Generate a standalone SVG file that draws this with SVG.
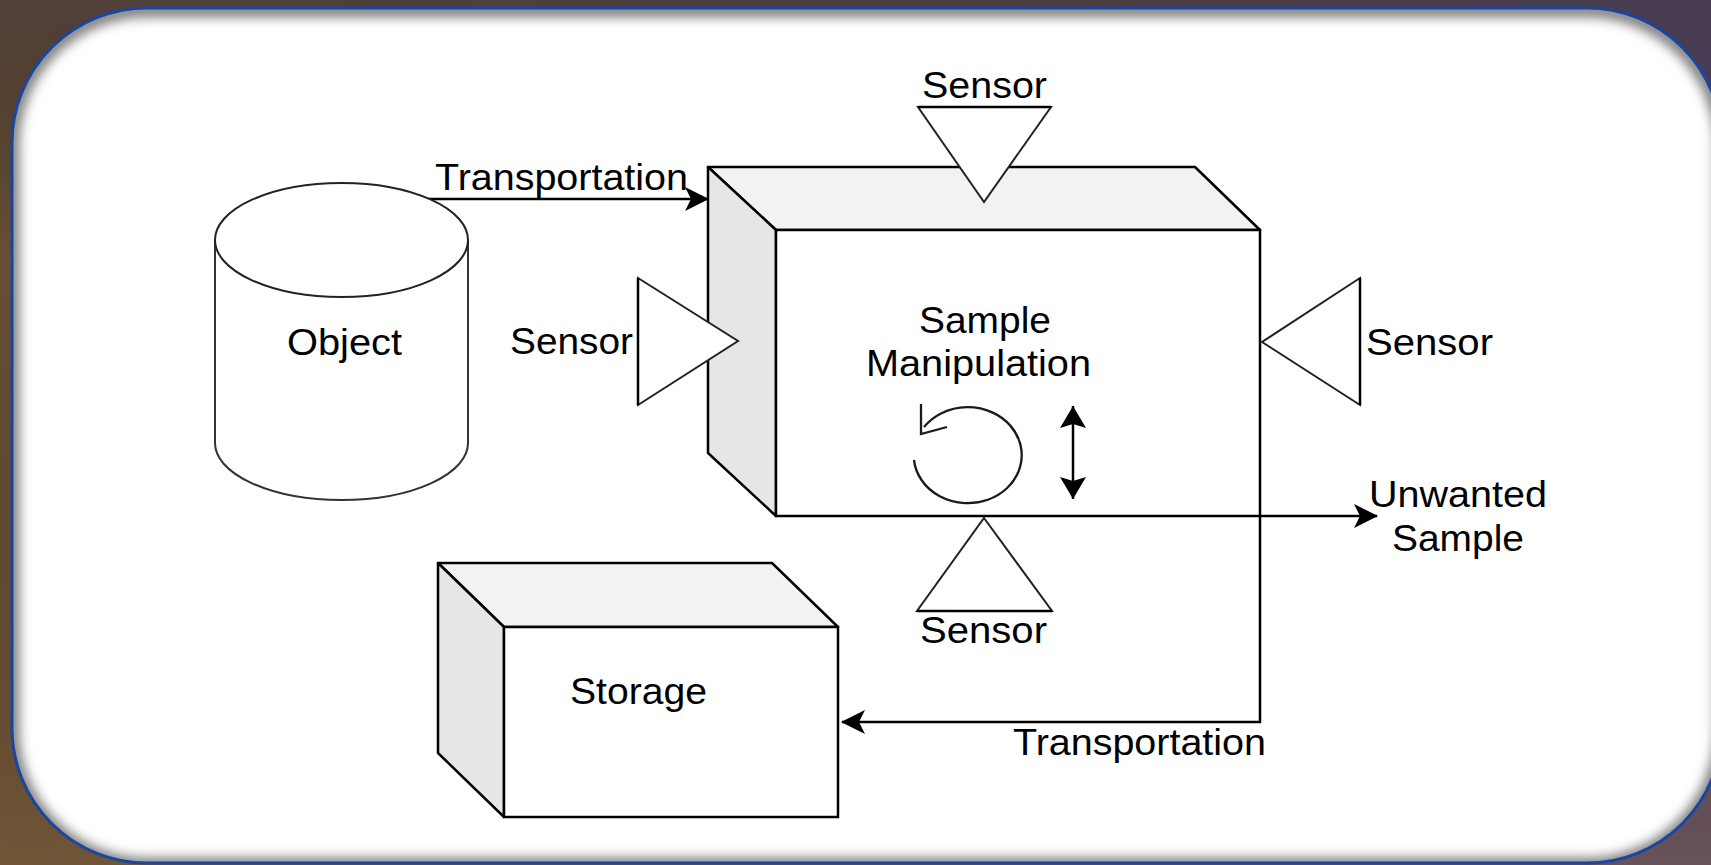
<svg xmlns="http://www.w3.org/2000/svg" width="1711" height="865" viewBox="0 0 1711 865">
<style>
.ln{fill:none;stroke:#000;stroke-width:2.5}
.th{fill:none;stroke:#1a1a1a;stroke-width:2.3}
.t{font-family:"Liberation Sans",Arial,Helvetica,sans-serif;font-size:36px;fill:#000}
</style>
<defs>
<linearGradient id="bg" x1="0" y1="0" x2="1" y2="0.3">
<stop offset="0" stop-color="#6a5134"/>
<stop offset="0.5" stop-color="#5e4d3e"/>
<stop offset="1" stop-color="#564a6e"/>
</linearGradient>
<linearGradient id="bg2" x1="0" y1="0" x2="0" y2="1">
<stop offset="0" stop-color="#3a3040" stop-opacity="0.5"/>
<stop offset="0.3" stop-color="#000" stop-opacity="0"/>
<stop offset="1" stop-color="#8a6030" stop-opacity="0.35"/>
</linearGradient>
<clipPath id="fc"><rect x="12" y="8" width="1710" height="855" rx="135" ry="135"/></clipPath>
<filter id="bl" x="-5%" y="-5%" width="110%" height="110%"><feGaussianBlur stdDeviation="6"/></filter>
<marker id="arr" viewBox="0 0 24 24" refX="23" refY="12" markerWidth="24" markerHeight="24" markerUnits="userSpaceOnUse" orient="auto">
<path d="M0,0 L24,12 L0,24 L6,12 Z" fill="#000"/>
</marker>
<marker id="dbl" viewBox="0 0 22 26" refX="22" refY="13" markerWidth="22" markerHeight="26" markerUnits="userSpaceOnUse" orient="auto-start-reverse">
<path d="M0,0 L22,13 L0,26 L4,13 Z" fill="#000"/>
</marker>
</defs>
<rect x="0" y="0" width="1711" height="865" fill="url(#bg)"/>
<rect x="0" y="0" width="1711" height="865" fill="url(#bg2)"/>
<g id="frame">
<rect x="12" y="8" width="1710" height="855" rx="135" ry="135" fill="#fff"/>
<g clip-path="url(#fc)">
<rect x="12" y="10" width="1710" height="855" rx="135" ry="135" fill="none" stroke="#777" stroke-width="14" filter="url(#bl)"/>
</g>
<rect x="12" y="8" width="1710" height="855" rx="135" ry="135" fill="none" stroke="#1846a0" stroke-width="3"/>
</g>
<g id="connectors">
<path class="ln" d="M423,199 L708,199" marker-end="url(#arr)"/>
<path class="ln" d="M1260,516 L1260,722 L842,722" marker-end="url(#arr)"/>
<path class="ln" d="M1260,516 L1377,516" marker-end="url(#arr)"/>
</g>
<g id="object">
<path d="M215,240 L215,443 A126.5,57 0 0 0 468,443 L468,240" fill="#fff" stroke="#333" stroke-width="2"/>
<ellipse cx="341.5" cy="240" rx="126.5" ry="57" fill="#fff" stroke="#222" stroke-width="2"/>
<text class="t" x="287" y="355" textLength="115" lengthAdjust="spacingAndGlyphs">Object</text>
</g>
<g id="sample-manipulation">
<path d="M708,167 L1195,167 L1260,230 L776,230 Z" fill="#f2f2f2" stroke="#000" stroke-width="2.5" stroke-linejoin="round"/>
<path d="M708,167 L776,230 L776,516 L708,453 Z" fill="#e6e6e6" stroke="#000" stroke-width="2.5" stroke-linejoin="round"/>
<rect x="776" y="230" width="484" height="286" fill="#fff" stroke="#000" stroke-width="2.5"/>
<text class="t" x="919" y="333" textLength="132" lengthAdjust="spacingAndGlyphs">Sample</text>
<text class="t" x="866" y="376" textLength="225" lengthAdjust="spacingAndGlyphs">Manipulation</text>
</g>
<g id="rotation-icon">
<path class="th" d="M914,460 A54,48 0 1 0 924,427"/>
<path class="th" d="M921,404 L921,434 L947,427"/>
</g>
<g id="vertical-arrow">
<path d="M1073,406 L1073,499" stroke="#000" stroke-width="2.5" marker-start="url(#dbl)" marker-end="url(#dbl)"/>
</g>
<g id="sensor-top">
<path d="M918,107 L1051,107 L984,202 Z" fill="#fff" stroke="#222" stroke-width="2"/>
<path d="M918,107 L1051,107" stroke="#000" stroke-width="2.5"/>
<text class="t" x="922" y="98" textLength="125" lengthAdjust="spacingAndGlyphs">Sensor</text>
</g>
<g id="sensor-left">
<path d="M638,278 L738,341 L638,405 Z" fill="#fff" stroke="#222" stroke-width="2"/>
<path d="M638,278 L638,405" stroke="#000" stroke-width="2.5"/>
<text class="t" x="510" y="354" textLength="123" lengthAdjust="spacingAndGlyphs">Sensor</text>
</g>
<g id="sensor-right">
<path d="M1360,278 L1262,342 L1360,405 Z" fill="#fff" stroke="#222" stroke-width="2"/>
<path d="M1360,278 L1360,405" stroke="#000" stroke-width="2.5"/>
<text class="t" x="1366" y="355" textLength="127" lengthAdjust="spacingAndGlyphs">Sensor</text>
</g>
<g id="sensor-bottom">
<path d="M984,518 L1052,611 L917,611 Z" fill="#fff" stroke="#222" stroke-width="2"/>
<path d="M917,611 L1052,611" stroke="#000" stroke-width="2.5"/>
<text class="t" x="920" y="643" textLength="127" lengthAdjust="spacingAndGlyphs">Sensor</text>
</g>
<g id="storage">
<path d="M438,563 L772,563 L838,627 L504,627 Z" fill="#f2f2f2" stroke="#000" stroke-width="2.5" stroke-linejoin="round"/>
<path d="M438,563 L504,627 L504,817 L438,753 Z" fill="#e6e6e6" stroke="#000" stroke-width="2.5" stroke-linejoin="round"/>
<rect x="504" y="627" width="334" height="190" fill="#fff" stroke="#000" stroke-width="2.5"/>
<text class="t" x="570" y="704" textLength="137" lengthAdjust="spacingAndGlyphs">Storage</text>
</g>
<g id="labels">
<text class="t" x="435" y="190" textLength="253" lengthAdjust="spacingAndGlyphs">Transportation</text>
<text class="t" x="1013" y="755" textLength="253" lengthAdjust="spacingAndGlyphs">Transportation</text>
<text class="t" x="1369" y="507" textLength="178" lengthAdjust="spacingAndGlyphs">Unwanted</text>
<text class="t" x="1392" y="551" textLength="132" lengthAdjust="spacingAndGlyphs">Sample</text>
</g>
</svg>
